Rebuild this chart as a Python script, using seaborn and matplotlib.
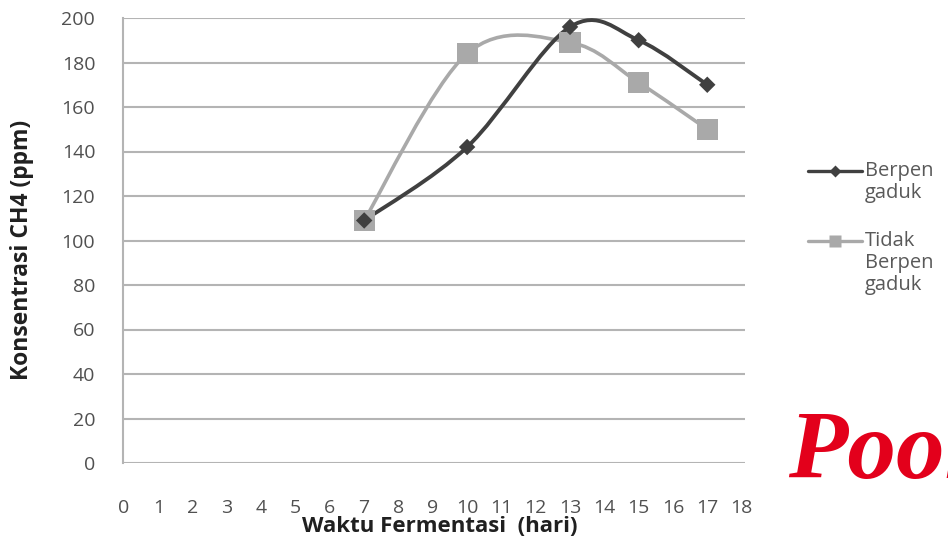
import numpy as np
import pandas as pd
import matplotlib
matplotlib.use("Agg")
import matplotlib.pyplot as plt
from matplotlib.path import Path
from matplotlib.patches import PathPatch
from matplotlib.lines import Line2D
import seaborn as sns

# Fermentation days and CH4 concentration (ppm)
days = [7, 10, 13, 15, 17]
berpengaduk = [109, 142, 196, 190, 170]
tidak_berpengaduk = [109, 184, 189, 171, 150]
series_names = ["Berpengaduk", "Tidak Berpengaduk"]
legend_labels = [["Berpen", "gaduk"], ["Tidak", "Berpen", "gaduk"]]
x_ticks = list(range(0, 19))
y_ticks = list(range(0, 201, 20))

colors = {"Berpengaduk": "#404040", "Tidak Berpengaduk": "#a9a9a9"}

df = pd.DataFrame({
    "Hari": days * 2,
    "CH4": berpengaduk + tidak_berpengaduk,
    "Seri": [series_names[0]] * len(days) + [series_names[1]] * len(days),
})

sns.set_theme(style="white")
plt.rcParams["font.family"] = ["Open Sans", "DejaVu Sans"]

W, H = 948, 539
fig = plt.figure(figsize=(W / 100, H / 100), dpi=100)
ax = fig.add_axes([123 / W, 1 - 463 / H, 622 / W, 445 / H])


def smooth_path(xs, ys):
    """Catmull-Rom style cubic Bezier through the points (spreadsheet smoothing)."""
    pts = np.column_stack([xs, ys]).astype(float)
    n = len(pts)
    verts = [pts[0]]
    codes = [Path.MOVETO]
    for i in range(n - 1):
        p0 = pts[i - 1] if i > 0 else pts[i]
        p1 = pts[i]
        p2 = pts[i + 1]
        p3 = pts[i + 2] if i + 2 < n else pts[i + 1]
        c1 = p1 + (p2 - p0) / 6.0
        c2 = p2 - (p3 - p1) / 6.0
        verts += [c1, c2, p2]
        codes += [Path.CURVE4] * 3
    return Path(verts, codes)


# horizontal grid lines
for y in y_ticks:
    ax.axhline(y, color="#b4b4b4", lw=1.5, zorder=0)

# smoothed curves, lighter series beneath
for name, vals, lw in [(series_names[1], tidak_berpengaduk, 2.6),
                       (series_names[0], berpengaduk, 2.8)]:
    ax.add_patch(PathPatch(smooth_path(days, vals), facecolor="none",
                           edgecolor=colors[name], lw=lw, zorder=2))

# markers
sub_t = df[df["Seri"] == series_names[1]]
sns.scatterplot(data=sub_t, x="Hari", y="CH4", marker="s", s=230,
                color=colors[series_names[1]], edgecolor="none", ax=ax,
                zorder=3, legend=False)
sub_b = df[df["Seri"] == series_names[0]]
sns.scatterplot(data=sub_b, x="Hari", y="CH4", marker="D", s=70,
                color=colors[series_names[0]], edgecolor="none", ax=ax,
                zorder=4, legend=False)

ax.set_xlim(-0.03, 18.1)
ax.set_ylim(0, 200)
ax.set_xticks(x_ticks)
ax.set_yticks(y_ticks)
ax.tick_params(axis="both", length=0, labelsize=14, colors="#505050")
ax.tick_params(axis="x", pad=26)
ax.tick_params(axis="y", pad=20)
ax.set_xlabel("")
ax.set_ylabel("")

for side in ["top", "right", "bottom"]:
    ax.spines[side].set_visible(False)
ax.spines["left"].set_color("#b4b4b4")
ax.spines["left"].set_linewidth(1.5)

fig.text(440 / W, 1 - 526 / H, "Waktu Fermentasi  (hari)", fontsize=16,
         fontweight="bold", color="#202020", ha="center", va="center")
fig.text(22 / W, 1 - 250 / H, "Konsentrasi CH4 (ppm)", fontsize=16.5,
         fontweight="bold", color="#202020", ha="center", va="center",
         rotation=90)

# legend: sample line with marker, label lines aligned with the sample
legend_rows = [171, 241]
marker_spec = [("D", 6, series_names[0]), ("s", 9, series_names[1])]
for row_y, (mk, ms, name), lines in zip(legend_rows, marker_spec, legend_labels):
    yf = 1 - row_y / H
    fig.add_artist(Line2D([808 / W, 862 / W], [yf, yf], color=colors[name],
                          lw=2.4, transform=fig.transFigure))
    fig.add_artist(Line2D([835 / W], [yf], marker=mk, markersize=ms,
                          color=colors[name], markeredgecolor="none",
                          transform=fig.transFigure))
    for k, txt in enumerate(lines):
        fig.text(865 / W, 1 - (row_y + 22 * k) / H, txt, fontsize=14.5,
                 color="#595959", ha="left", va="center")

fig.text(788 / W, 1 - 478 / H, "Poor", color="#e3001b", fontsize=70,
         fontweight="bold", fontstyle="italic",
         family=["Liberation Serif", "DejaVu Serif"], va="baseline")

fig.savefig("out.png", dpi=100)
